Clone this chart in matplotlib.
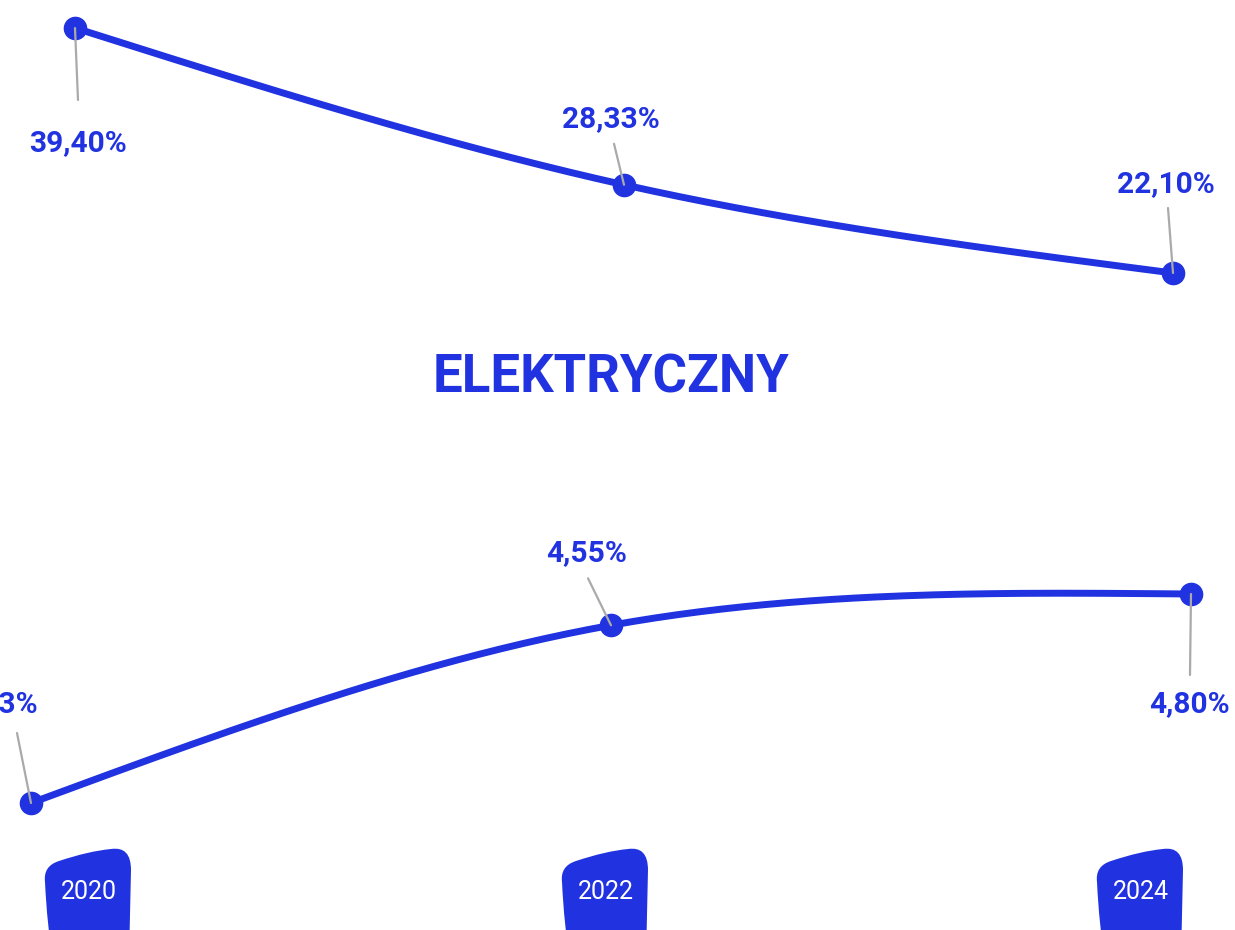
import numpy as np
import matplotlib
matplotlib.use('Agg')
import matplotlib.pyplot as plt
from matplotlib.path import Path
from matplotlib.patches import PathPatch

years = [2020, 2022, 2024]
top_values = [39.40, 28.33, 22.10]
bottom_values = [3.13, 4.55, 4.80]
title = 'ELEKTRYCZNY'

blue = '#2133e0'
grey = '#aaaaaa'
plt.rcParams['font.family'] = ['Roboto', 'DejaVu Sans']


def fmt(v):
    return f'{v:.2f}'.replace('.', ',') + '%'


def natural_curve(x, y, n=80):
    # natural cubic spline through the points (smooth line style)
    x = np.asarray(x, float)
    y = np.asarray(y, float)
    k = len(x)
    h = np.diff(x)
    A = np.zeros((k, k))
    r = np.zeros(k)
    A[0, 0] = A[-1, -1] = 1
    for i in range(1, k - 1):
        A[i, i - 1] = h[i - 1]
        A[i, i] = 2 * (h[i - 1] + h[i])
        A[i, i + 1] = h[i]
        r[i] = 6 * ((y[i + 1] - y[i]) / h[i] - (y[i] - y[i - 1]) / h[i - 1])
    M = np.linalg.solve(A, r)
    xs, ys = [], []
    for i in range(k - 1):
        t = np.linspace(x[i], x[i + 1], n)
        a = x[i + 1] - t
        b = t - x[i]
        s = (M[i] * a ** 3 + M[i + 1] * b ** 3) / (6 * h[i]) \
            + (y[i] / h[i] - M[i] * h[i] / 6) * a \
            + (y[i + 1] / h[i] - M[i + 1] * h[i] / 6) * b
        xs.extend(t)
        ys.extend(s)
    return xs, ys


def draw_series(ax, values, offsets):
    cx, cy = natural_curve(years, values)
    ax.plot(cx, cy, color=blue, lw=5, solid_capstyle='round', clip_on=False, zorder=2)
    ax.plot(years, values, 'o', color=blue, ms=16, clip_on=False, zorder=3)
    for yr, v, (lx, ly, tx, ty) in zip(years, values, offsets):
        ax.annotate('', xy=(yr, v), xytext=(lx, ly), textcoords='offset pixels',
                    arrowprops=dict(arrowstyle='-', color=grey, lw=1.6,
                                    shrinkA=0, shrinkB=0), zorder=4, annotation_clip=False)
        ax.annotate(fmt(v), xy=(yr, v), xytext=(tx, ty), textcoords='offset pixels',
                    ha='center', va='center', fontsize=21.5, fontweight='bold',
                    color=blue, zorder=5, annotation_clip=False)


W, H = 1235, 930
fig = plt.figure(figsize=(W / 100, H / 100), dpi=100)

# overlay in pixel coordinates for title and year badges
bg = fig.add_axes([0, 0, 1, 1])
bg.set_xlim(0, W)
bg.set_ylim(H, 0)
bg.axis('off')
bg.text(611, 378, title, ha='center', va='center', fontsize=38,
        fontweight='bold', color=blue)


def blob(cx):
    # irregular rounded badge shape
    verts = [(cx - 44, 882),
             (cx - 46, 866), (cx - 30, 861),
             (cx, 851), (cx + 22, 849),
             (cx + 42, 846), (cx + 42, 870),
             (cx + 40, 960),
             (cx - 36, 960),
             (cx - 42, 925), (cx - 44, 882),
             (cx - 44, 882)]
    codes = [Path.MOVETO,
             Path.CURVE3, Path.CURVE3,
             Path.CURVE3, Path.CURVE3,
             Path.CURVE3, Path.CURVE3,
             Path.LINETO,
             Path.LINETO,
             Path.CURVE3, Path.CURVE3,
             Path.CLOSEPOLY]
    return Path(verts, codes)


badge_x = [89, 606, 1141]
for bx, yr in zip(badge_x, years):
    bg.add_patch(PathPatch(blob(bx), facecolor=blue, edgecolor='none'))
    bg.text(bx, 892, str(yr), ha='center', va='center', fontsize=18, color='white')

# top series
ax1 = fig.add_axes([75 / W, 1 - 273 / H, 1098 / W, 245 / H])
ax1.set_xlim(2020, 2024)
ax1.set_ylim(22.10, 39.40)
ax1.axis('off')
ax1.patch.set_alpha(0)
draw_series(ax1, top_values, [(3, -72, 3, -115), (-10, 41, -13, 66), (-5, 65, -7, 89)])

# bottom series
ax2 = fig.add_axes([31 / W, 1 - 803 / H, 1160 / W, 209 / H])
ax2.set_xlim(2020, 2024)
ax2.set_ylim(3.13, 4.80)
ax2.axis('off')
ax2.patch.set_alpha(0)
draw_series(ax2, bottom_values, [(-14, 70, -34, 99), (-23, 47, -24, 72), (-1, -81, -2, -110)])

fig.savefig('out.png', dpi=100)
